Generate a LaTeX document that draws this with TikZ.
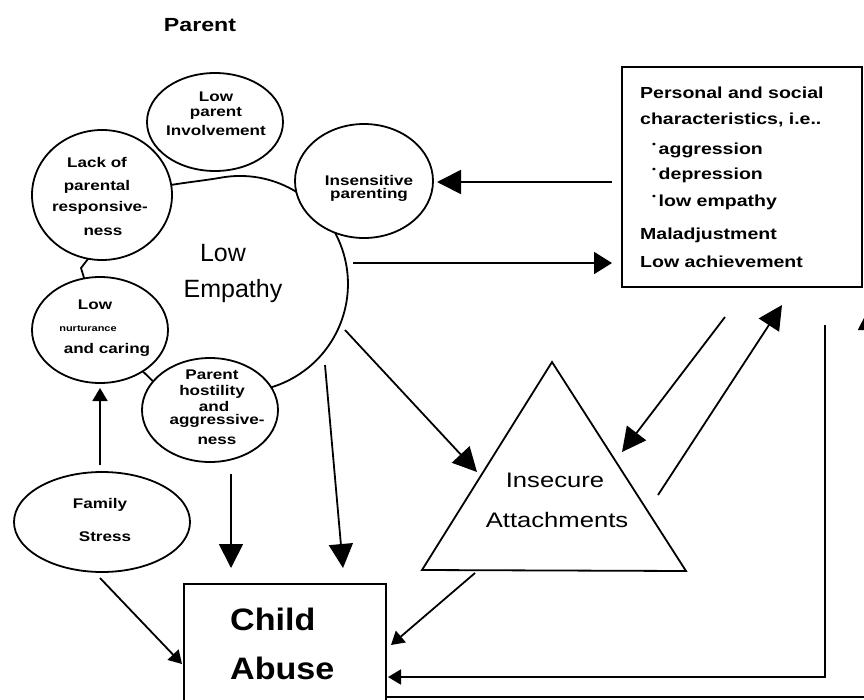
\documentclass[tikz,border=0pt]{standalone}
\usepackage{fontspec}
\setmainfont{Liberation Sans}
\newfontfamily\wsans[FakeStretch=1.22]{Liberation Sans}
\newfontfamily\csans[FakeStretch=1.1]{Liberation Sans}
\usetikzlibrary{shapes.geometric,arrows.meta}
\begin{document}
\begin{tikzpicture}[x=1pt,y=-1pt,
  ln/.style={line width=1.8pt},
  ov/.style={ellipse, draw, line width=1.8pt, fill=white, inner sep=0pt},
  st/.style={font=\wsans\bfseries\fontsize{14}{15}\selectfont, inner sep=0pt},
  pt/.style={font=\wsans\bfseries\fontsize{16}{17}\selectfont, inner sep=0pt, anchor=west},
  bigarr/.style={ln, -{Triangle[length=24pt,width=24pt]}},
  medarr/.style={ln, -{Triangle[length=18pt,width=22pt]}},
  smallarr/.style={ln, -{Triangle[length=13pt,width=15pt]}},
]
\useasboundingbox (0,0) rectangle (864,699);
\clip (0,0) rectangle (864,699);
\fill[white] (0,0) rectangle (864,699);

% title
\node[font=\wsans\bfseries\fontsize{19}{20}\selectfont, inner sep=0pt] (title) at (200,25) {Parent};

% big Low Empathy shape
\draw[ln] (221.2,177.6) arc[start angle=-100, end angle=100, radius=108] -- (160,388) -- (100,330) -- (81,268) -- (140,192) .. controls (165,184) and (196.6,182) .. (221.2,177.6);
\node[font=\fontsize{25}{26}\selectfont, inner sep=0pt] (le1) at (223,253) {Low};
\node[font=\fontsize{25}{26}\selectfont, inner sep=0pt] (le2) at (233,291) {Empathy};

% small ellipses
\node[ov, minimum width=136pt, minimum height=98pt] (lpi) at (215,122) {};
\node[ov, minimum width=140pt, minimum height=130pt] (lack) at (102,195) {};
\node[ov, minimum width=138pt, minimum height=114pt] (ins) at (364,181) {};
\node[ov, minimum width=136pt, minimum height=106pt] (nur) at (100,330) {};
\node[ov, minimum width=136pt, minimum height=104pt] (host) at (210,410) {};
\node[ov, minimum width=176pt, minimum height=100pt] (fam) at (102,522) {};

\node[st] (t1) at (216,97) {Low};
\node[st] (t2) at (216,113) {parent};
\node[st] (t3) at (216,130) {Involvement};

\node[st] (t4) at (97,162) {Lack of};
\node[st] (t5) at (97,187) {parental};
\node[st] (t6) at (100,208) {responsive-};
\node[st] (t7) at (103,232) {ness};

\node[st] (t8) at (369,180) {Insensitive};
\node[st] (t9) at (369,195) {parenting};

\node[st] (t10) at (95,305) {Low};
\node[st, font=\wsans\bfseries\fontsize{9}{9}\selectfont] (t11) at (88,329) {nurturance};
\node[st] (t12) at (107,350) {and caring};

\node[st] (t13) at (212,375) {Parent};
\node[st] (t14) at (212,392) {hostility};
\node[st] (t15) at (214,406) {and};
\node[st] (t16) at (217,421) {aggressive-};
\node[st] (t17) at (217,441) {ness};

\node[st] (t18) at (100,505) {Family};
\node[st] (t19) at (105,537) {Stress};

% personal box
\node[draw, line width=1.8pt, minimum width=240pt, minimum height=220pt, inner sep=0pt] (pers) at (742,177) {};
\node[pt] (p1) at (640,93) {Personal and social};
\node[pt] (p2) at (640,120) {characteristics, i.e..};
\node[pt] (p3) at (652,150) {\raisebox{.4em}{\fontsize{9}{9}\selectfont •}\,aggression};
\node[pt] (p4) at (652,175) {\raisebox{.4em}{\fontsize{9}{9}\selectfont •}\,depression};
\node[pt] (p5) at (652,202) {\raisebox{.4em}{\fontsize{9}{9}\selectfont •}\,low empathy};
\node[pt] (p6) at (640,235) {Maladjustment};
\node[pt] (p7) at (640,262) {Low achievement};

% triangle
\coordinate (tA) at (552,362);
\coordinate (tL) at (422,570);
\coordinate (tR) at (686,571);
\draw[ln, line join=miter] (tA) -- (tL) -- (tR) -- cycle;
\node[font=\wsans\fontsize{21}{22}\selectfont, inner sep=0pt] (ia1) at (555,480) {Insecure};
\node[font=\wsans\fontsize{21}{22}\selectfont, inner sep=0pt] (ia2) at (557,520) {Attachments};

% child abuse box
\draw[ln] (184,584) rectangle (386,720);
\node[font=\csans\bfseries\fontsize{31}{32}\selectfont, inner sep=0pt, anchor=west] (ca1) at (230,619) {Child};
\node[font=\csans\bfseries\fontsize{31}{32}\selectfont, inner sep=0pt, anchor=west] (ca2) at (230,668) {Abuse};

% arrow endpoints
\coordinate (a1s) at (612,182); \coordinate (a1e) at (437,182);
\coordinate (a2s) at (353,263); \coordinate (a2e) at (612,263);
\coordinate (a3s) at (345,330); \coordinate (a3e) at (477,472);
\coordinate (a4s) at (325,365); \coordinate (a4e) at (343,568);
\coordinate (a5s) at (231,474); \coordinate (a5e) at (231,568);
\coordinate (a6s) at (100,465); \coordinate (a6e) at (100,388);
\coordinate (a7s) at (100,578); \coordinate (a7e) at (182,664);
\coordinate (a8s) at (475,573); \coordinate (a8e) at (391,645);
\coordinate (a9s) at (725,317); \coordinate (a9e) at (622,452);
\coordinate (a10s) at (658,495); \coordinate (a10e) at (782,305);
\coordinate (a11s) at (825,325); \coordinate (a11c) at (825,677); \coordinate (a11e) at (388,677);
\coordinate (a12s) at (386,697); \coordinate (a12c) at (870,697); \coordinate (a12e) at (870,306);

\draw[bigarr] (a1s) -- (a1e);
\draw[medarr] (a2s) -- (a2e);
\draw[bigarr] (a3s) -- (a3e);
\draw[bigarr] (a4s) -- (a4e);
\draw[bigarr] (a5s) -- (a5e);
\draw[smallarr] (a6s) -- (a6e);
\draw[smallarr] (a7s) -- (a7e);
\draw[smallarr] (a8s) -- (a8e);
\draw[bigarr] (a9s) -- (a9e);
\draw[bigarr] (a10s) -- (a10e);
\draw[smallarr] (a11s) -- (a11c) -- (a11e);
\draw[bigarr] (a12s) -- (a12c) -- (a12e);
\end{tikzpicture}
\end{document}
